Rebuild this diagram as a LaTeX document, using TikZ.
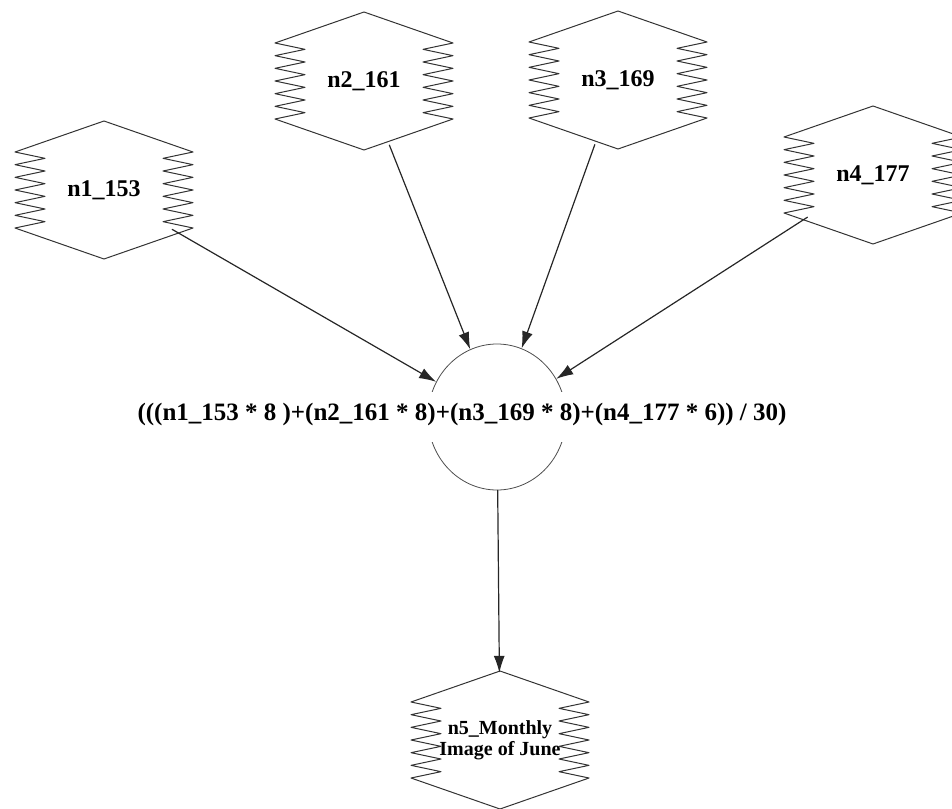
\documentclass[tikz,border=0pt]{standalone}
\usepackage{fontspec}
\setmainfont{Liberation Serif}
\usetikzlibrary{arrows.meta,shapes.geometric}

\begin{document}
\begin{tikzpicture}[
    x=1pt,y=-1pt,
    line cap=round,line join=round,
    outline/.style={draw=black!80,line width=1pt},
    hexnode/.style={ellipse,minimum width=168pt,minimum height=134pt,inner sep=0pt,
        align=center,font=\fontsize{24}{28}\selectfont\bfseries},
    link/.style={-{Latex[length=17pt,width=11pt]},draw=black!85,line width=1.2pt},
    zigbox/.pic={
        \draw[outline] (-89,-38) -- (0,-69) -- (89,-38)
        \foreach \k in {1,...,6} {-- (59,{-38+(\k-0.5)*76/6}) -- (89,{-38+\k*76/6})}
        -- (0,69) -- (-89,38)
        \foreach \k in {1,...,6} {-- (-59,{38-(\k-0.5)*76/6}) -- (-89,{38-\k*76/6})}
        -- cycle;
    }
]
    \useasboundingbox (0,0) rectangle (952,808);
    \clip (0,0) rectangle (952,808);

    \node[hexnode] (n1) at (104,190) {n1\_153};
    \node[hexnode] (n2) at (364,81) {n2\_161};
    \node[hexnode] (n3) at (618,80) {n3\_169};
    \node[hexnode] (n4) at (873,175) {n4\_177};
    \node[hexnode,font=\fontsize{20}{21}\selectfont\bfseries] (n5) at (500,740)
        {n5\_Monthly\\Image of June};
    \path
        (n1) pic {zigbox}
        (n2) pic {zigbox}
        (n3) pic {zigbox}
        (n4) pic {zigbox}
        (n5) pic {zigbox}
    ;

    \node[ellipse,draw=black!70,line width=0.8pt,minimum width=138pt,minimum height=146pt] (op) at (497,417) {};
    \node[fill=white,anchor=base,text height=28pt,text depth=22pt,inner ysep=0pt,inner xsep=2pt,
        font=\fontsize{25}{28}\selectfont\bfseries] (formula) at (462,420)
        {(((n1\_153 * 8 )+(n2\_161 * 8)+(n3\_169 * 8)+(n4\_177 * 6)) / 30)};

    \draw[link] (n1) -- (op);
    \draw[link] (n2) -- (op);
    \draw[link] (n3) -- (op);
    \draw[link] (n4) -- (op);
    \draw[link] (op) -- (n5);
\end{tikzpicture}
\end{document}
